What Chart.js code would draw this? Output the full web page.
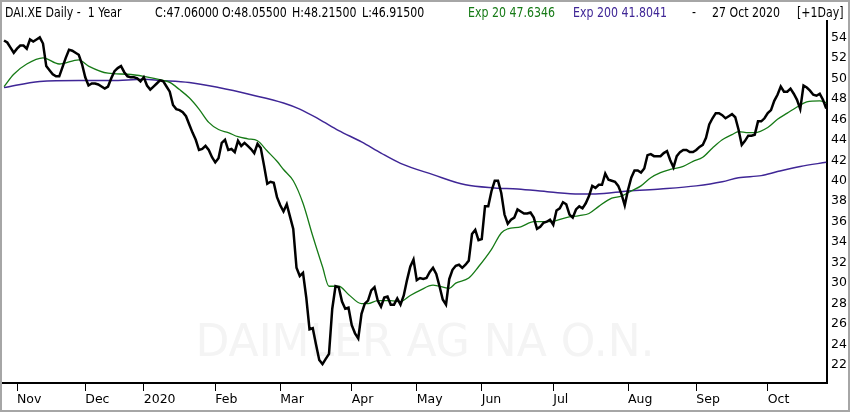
<!DOCTYPE html>
<html>
<head>
<meta charset="utf-8">
<script src="https://cdn.jsdelivr.net/npm/chart.js@4.4.1/dist/chart.umd.min.js"></script>
<style>
  html, body { margin: 0; padding: 0; background: #fff; }
</style>
</head>
<body>
<canvas id="chart" width="850" height="412"></canvas>
<script>
/* daily closes, one per trading day, 28 Oct 2019 .. 27 Oct 2020 */
const closes = [
  53.7, 53.5, 53.0, 52.5, 52.9, 53.2, 53.2, 52.9, 53.8, 53.6,
  53.8, 54.0, 53.4, 51.2, 50.8, 50.4, 50.2, 50.2, 51.1, 52.0,
  52.8, 52.7, 52.5, 52.3, 51.4, 50.1, 49.3, 49.5, 49.5, 49.4,
  49.2, 49.0, 49.2, 50.0, 50.7, 51.0, 51.2, 50.6, 50.2, 50.1,
  50.1, 50.0, 49.7, 50.1, 49.3, 48.9, 49.2, 49.5, 49.8, 49.7,
  49.2, 48.7, 47.4, 47.0, 46.9, 46.7, 46.3, 45.5, 44.7, 44.0,
  43.0, 43.1, 43.4, 43.0, 42.3, 41.8, 42.2, 43.7, 44.0, 43.0,
  43.1, 42.8, 43.9, 43.4, 43.7, 43.4, 43.1, 42.7, 43.6, 43.2,
  41.5, 39.7, 39.9, 39.8, 38.4, 37.6, 37.0, 37.7, 36.5, 35.3,
  31.5, 30.7, 31.0, 28.6, 25.5, 25.6, 24.0, 22.5, 22.1, 22.6,
  23.1, 27.5, 29.7, 29.6, 28.2, 27.5, 27.6, 25.9, 25.1, 24.6,
  27.0, 28.0, 28.3, 29.3, 29.6, 28.3, 27.7, 28.6, 28.7, 27.9,
  27.9, 28.5, 27.9, 28.8, 30.3, 31.6, 32.3, 30.3, 30.5, 30.4,
  30.5, 31.1, 31.5, 30.9, 29.7, 28.4, 27.9, 30.4, 31.3, 31.7,
  31.8, 31.5, 31.8, 32.2, 34.8, 35.2, 34.2, 34.3, 37.5, 37.5,
  39.0, 40.0, 40.0, 38.8, 36.7, 35.8, 36.2, 36.4, 37.2, 37.0,
  36.8, 36.8, 36.9, 36.4, 35.3, 35.5, 35.9, 36.0, 36.2, 35.7,
  37.1, 37.3, 37.9, 37.7, 36.7, 36.4, 37.2, 37.5, 37.3, 37.8,
  38.5, 39.5, 39.3, 39.6, 39.6, 40.7, 40.1, 40.0, 39.9, 39.5,
  38.7, 37.6, 39.1, 40.3, 41.0, 41.0, 40.8, 41.2, 42.5, 42.6,
  42.4, 42.4, 42.4, 42.7, 42.9, 42.0, 41.3, 42.4, 42.8, 43.0,
  43.0, 42.8, 42.8, 43.0, 43.3, 43.5, 44.2, 45.5, 46.1, 46.6,
  46.6, 46.4, 46.1, 46.3, 46.5, 46.2, 45.0, 43.5, 43.9, 44.4,
  44.4, 44.5, 45.8, 45.8, 46.1, 46.6, 46.9, 47.8, 48.4, 49.2,
  48.7, 48.7, 49.0, 48.5, 47.9, 47.0, 49.3, 49.1, 48.8, 48.4,
  48.3, 48.5, 47.9, 47.06
];

const ema20Days = [0, 3, 7, 12, 17, 23, 26, 32, 38, 43, 49, 51, 54, 57, 60, 63, 66, 69, 72, 75,
  78, 81, 84, 86, 89, 92, 95, 98, 100, 103, 106, 110, 112, 115, 119, 122, 125, 128, 132, 137,
  139, 143, 146, 150, 153, 155, 159, 163, 168, 173, 177, 180, 183, 187, 190, 193, 196, 199, 202, 205,
  209, 212, 215, 218, 221, 224, 226, 229, 231, 235, 238, 241, 244, 247, 251, 253];
const ema20 = [49.2, 50.4, 51.4, 52.0, 51.4, 51.8, 51.2, 50.5, 50.4, 50.2, 49.8, 49.6, 48.9, 48.1, 47.0, 45.7, 45.0, 44.7, 44.3, 44.1,
  43.9, 42.9, 41.9, 41.1, 40.0, 37.8, 34.6, 31.6, 29.7, 29.7, 28.9, 28.0, 28.0, 28.3, 28.3, 28.2, 28.8, 29.3, 29.8, 29.5,
  30.0, 30.5, 31.6, 33.3, 34.9, 35.3, 35.5, 36.0, 36.0, 36.4, 36.6, 36.8, 37.5, 38.3, 38.5, 39.0, 39.5, 40.3, 40.8, 41.1,
  41.4, 41.9, 42.3, 43.2, 44.0, 44.5, 44.8, 44.7, 44.7, 45.2, 46.0, 46.6, 47.2, 47.7, 47.8, 47.63];

const ema200Days = [0, 11, 23, 33, 43, 48, 57, 66, 76, 86, 91, 97, 103, 110, 116, 122, 132, 142, 151, 158,
  168, 177, 182, 192, 202, 213, 221, 226, 233, 238, 245, 253];
const ema200 = [49.1, 49.7, 49.8, 49.8, 49.9, 49.8, 49.6, 49.1, 48.4, 47.6, 47.0, 46.0, 44.9, 43.8, 42.7, 41.7, 40.6, 39.6, 39.3, 39.2,
  38.9, 38.7, 38.7, 39.0, 39.2, 39.5, 39.9, 40.3, 40.5, 40.9, 41.4, 41.8];

/* first trading day of each month and its label */
const monthStarts = [4, 25, 43, 65, 85, 107, 127, 147, 169, 192, 213, 235];
const monthLabels = ["Nov", "Dec", "2020", "Feb", "Mar", "Apr", "May", "Jun", "Jul", "Aug", "Sep", "Oct"];
const yTicks = [22, 24, 26, 28, 30, 32, 34, 36, 38, 40, 42, 44, 46, 48, 50, 52, 54];

const headerParts = ["DAI.XE Daily -  1 Year", "C:47.06000", "O:48.05500", "H:48.21500", "L:46.91500",
  "Exp 20 47.6346", "Exp 200 41.8041", "-", "27 Oct 2020", "[+1Day]"];
const watermark = "DAIMLER AG NA O.N.";

const green = "#167a16";
const purple = "#3f2696";

/* header line, watermark and frame */
const decor = {
  id: "decor",
  beforeDatasetsDraw(chart) {
    const c = chart.ctx;
    c.save();
    c.font = '44px "DejaVu Sans"';
    c.fillStyle = "#f4f4f4";
    c.textAlign = "center";
    c.textBaseline = "middle";
    c.fillText(watermark, 425, 345);
    c.restore();
  },
  afterDraw(chart) {
    const c = chart.ctx;
    const xs = [5, 155, 222, 292, 362, 468, 573, 692, 712, 797];
    const cols = ["#000", "#000", "#000", "#000", "#000", green, purple, "#000", "#000", "#000"];
    c.save();
    c.font = '11px "DejaVu Sans"';
    c.textBaseline = "alphabetic";
    c.translate(0, 17);
    c.scale(1, 1.22);
    headerParts.forEach((t, k) => {
      c.fillStyle = cols[k];
      c.fillText(t, xs[k], 0);
    });
    c.restore();

    c.save();
    c.strokeStyle = "#a6a6a6";
    c.lineWidth = 2;
    c.strokeRect(1, 1, 848, 410);
    c.restore();
  }
};

const config = {
  type: "line",
  data: {
    datasets: [
      {
        label: "DAI.XE",
        data: closes.map((v, i) => ({ x: i, y: v })),
        borderColor: "#000",
        borderWidth: 2.5,
        pointRadius: 0,
        tension: 0,
        order: 0
      },
      {
        label: "Exp 20",
        data: ema20Days.map((d, k) => ({ x: d, y: ema20[k] })),
        borderColor: green,
        borderWidth: 1.3,
        pointRadius: 0,
        cubicInterpolationMode: "monotone",
        order: 1
      },
      {
        label: "Exp 200",
        data: ema200Days.map((d, k) => ({ x: d, y: ema200[k] })),
        borderColor: purple,
        borderWidth: 1.5,
        pointRadius: 0,
        cubicInterpolationMode: "monotone",
        order: 2
      }
    ]
  },
  options: {
    responsive: false,
    animation: false,
    layout: { padding: { left: 3, top: 21, right: 0, bottom: 0 } },
    plugins: {
      legend: { display: false },
      tooltip: { enabled: false }
    },
    scales: {
      x: {
        type: "linear",
        min: -0.31,
        max: 253.23,
        afterBuildTicks: (s) => { s.ticks = monthStarts.map((v) => ({ value: v })); },
        afterFit: (s) => { s.height = 29; },
        ticks: {
          autoSkip: false,
          maxRotation: 0,
          align: "start",
          padding: 1,
          color: "#000",
          font: { family: "DejaVu Sans", size: 12.5 },
          callback: (v) => monthLabels[monthStarts.indexOf(v)]
        },
        grid: { drawOnChartArea: false, drawTicks: true, tickLength: 8, color: "#000", lineWidth: 1 },
        border: { display: true, color: "#000", width: 2 }
      },
      y: {
        position: "right",
        min: 20.25,
        max: 55.6,
        afterBuildTicks: (s) => { s.ticks = yTicks.map((v) => ({ value: v })); },
        afterFit: (s) => { s.width = 23; },
        ticks: {
          padding: 4,
          color: "#000",
          font: { family: "DejaVu Sans", size: 12.5 },
          callback: (v) => String(v)
        },
        grid: { display: false, drawTicks: false },
        border: { display: true, color: "#000", width: 2 }
      }
    }
  },
  plugins: [decor]
};

new Chart(document.getElementById("chart"), config);
</script>
</body>
</html>
